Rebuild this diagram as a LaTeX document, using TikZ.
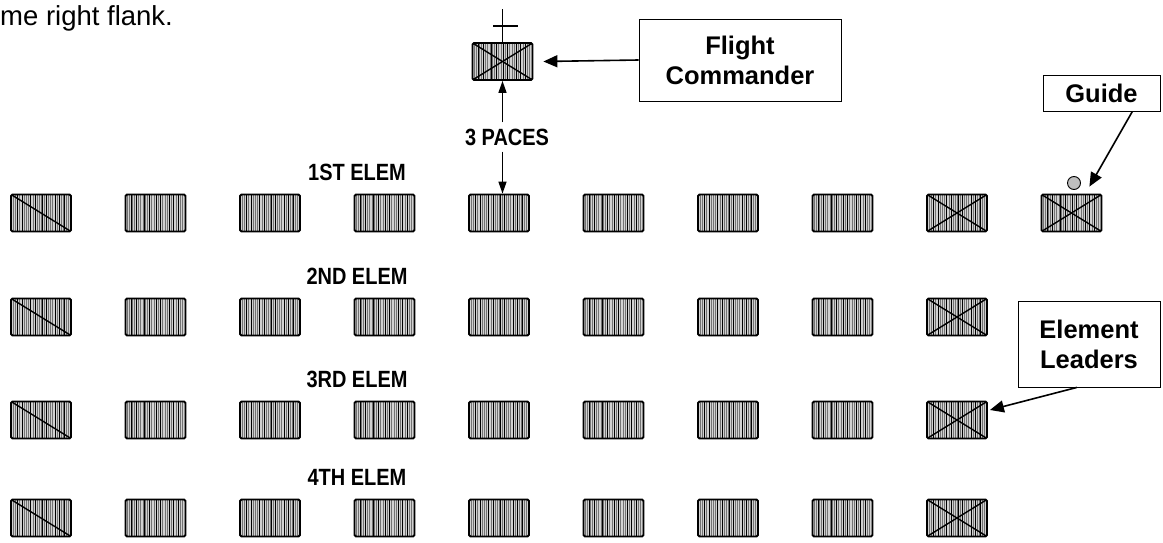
\documentclass[tikz,border=0pt]{standalone}
\usepackage{fontspec}
\setmainfont{Liberation Sans}
\newfontfamily\narrowfont[FakeStretch=0.85]{Liberation Sans Bold}
\usetikzlibrary{arrows.meta}

% vertical shading of one airman box
\newcommand\hatchlines{%
  \foreach \hx in {2,4.2,...,58}
    \draw[black!55,line width=0.5pt]
      ([xshift=\hx pt]path picture bounding box.south west) --
      ([xshift=\hx pt]path picture bounding box.north west);
  \foreach \hx in {6,11,19,24,31,35,44,48,53}
    \draw[black,line width=0.7pt]
      ([xshift=\hx pt]path picture bounding box.south west) --
      ([xshift=\hx pt]path picture bounding box.north west);
}

\begin{document}
\begin{tikzpicture}[x=1pt,y=-1pt,
	airman/.style={ draw, line width=1.8pt, rounded corners=1.5pt, fill=black!18,
		minimum width=60pt, minimum height=37pt, inner sep=0pt, path picture={\hatchlines} },
	diagman/.style={ airman, path picture={\hatchlines
		\draw[line width=1.4pt] (path picture bounding box.north west) -- (path picture bounding box.south east);} },
	elemlead/.style={ airman, path picture={\hatchlines
		\draw[line width=1.4pt] (path picture bounding box.north west) -- (path picture bounding box.south east)
		(path picture bounding box.north east) -- (path picture bounding box.south west);} },
	callbox/.style={ draw, line width=0.8pt, align=center, inner sep=0pt,
		font=\fontsize{25.5}{30}\selectfont\bfseries },
	elemtext/.style={ font=\fontsize{23.5}{26}\narrowfont, inner sep=0pt },
	callout/.style={ line width=1.6pt, -{Triangle[length=14pt,width=12pt]} },
	pacearrow/.style={ line width=1.5pt, -{Triangle[length=12pt,width=8pt]} }
]
\useasboundingbox (0,0) rectangle (1163,543);

\node[anchor=base west, inner sep=0pt, font=\fontsize{27.5}{30}\selectfont] (intro) at (0,26) {me right flank.};

% the four elements
\foreach \r/\y/\lab in {1/213/1ST,2/317/2ND,3/420/3RD,4/518/4TH} {
	\node[elemtext] (lab\r) at (357,\y-41) {\lab\ ELEM};
	\node[diagman] (e\r m1) at (41,\y) {};
	\foreach \c in {2,...,8}
		\node[airman] (e\r m\c) at ({41+114.5*(\c-1)},\y) {};
	\node[elemlead] (e\r m9) at (957,\y) {};
}

% guide
\node[elemlead] (e1m10) at (1071.5,213) {};
\node[circle, draw, line width=0.9pt, fill=black!25, minimum size=13pt, inner sep=0pt] (gmark) at (1074,183) {};

% flight commander
\node[elemlead] (fc) at (502.5,61.5) {};
\draw[line width=1.6pt] (fc.north) -- (502.5,9);
\draw[line width=1.6pt] (493,26) -- (518,26);

\node[elemtext] (pace) at (507,137) {3 PACES};
\draw[pacearrow] ([yshift=6pt]pace.north -| fc.south) -- (fc.south);
\draw[pacearrow] ([yshift=-6pt]pace.south -| fc.south) -- (e1m5.north -| fc.south);

% call-outs
\node[callbox, minimum width=202pt, minimum height=82pt] (fcbox) at (740,60) {Flight\\Commander};
\node[callbox, minimum width=117pt, minimum height=36pt] (guidebox) at (1101.5,93) {Guide};
\node[callbox, minimum width=142pt, minimum height=86pt] (leadbox) at (1089,344) {Element\\Leaders};

\draw[callout] (fcbox.west) -- ([xshift=10pt]fc.east);
\draw[callout] ([xshift=-28pt]guidebox.south east) -- ([xshift=-13pt,yshift=7pt]e1m10.north east);
\draw[callout] ([xshift=-12pt]leadbox.south) -- ([xshift=2pt,yshift=10pt]e3m9.east);

\end{tikzpicture}
\end{document}
